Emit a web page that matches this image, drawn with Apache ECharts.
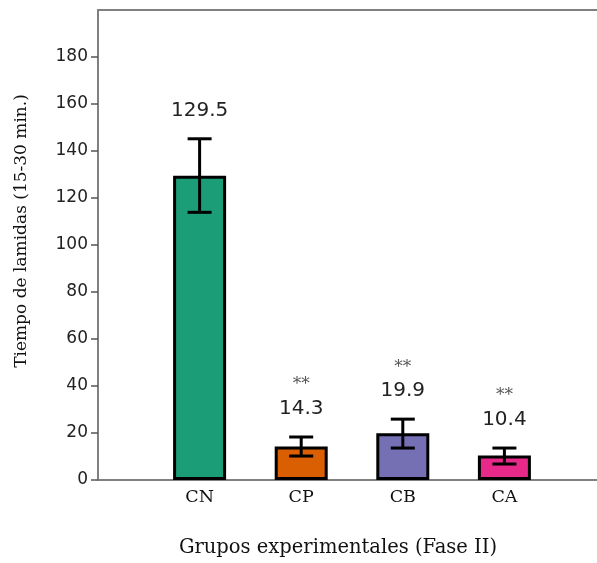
<!DOCTYPE html>
<html>
<head>
<meta charset="utf-8">
<script src="https://cdn.jsdelivr.net/npm/echarts@6/dist/echarts.min.js"></script>
<style>
  html, body { margin: 0; padding: 0; background: #fff; overflow: hidden; }
  #chart { width: 609px; height: 563px; }
</style>
</head>
<body>
<div id="chart"></div>
<script>
const categories = ['CN', 'CP', 'CB', 'CA'];
const means = [129.5, 14.3, 19.9, 10.4];
const errLow = [113.9, 10.2, 13.6, 6.8];
const errHigh = [145.2, 18.3, 25.9, 13.6];
const stars = ['', '**', '**', '**'];
const colors = ['#1b9e77', '#d95f02', '#7570b3', '#e7298a'];
const yTicks = [0, 20, 40, 60, 80, 100, 120, 140, 160, 180];

const axisCats = [''].concat(categories, ['']);
const serif = '"DejaVu Serif", serif';
const sans = '"DejaVu Sans", sans-serif';

const barData = means.map((v, i) => ({
  value: [i + 1, v],
  itemStyle: { color: colors[i] }
}));
const errData = means.map((v, i) => [i + 1, errLow[i], errHigh[i], v, stars[i]]);

const chart = echarts.init(document.getElementById('chart'), null, { renderer: 'canvas' });
chart.setOption({
  animation: false,
  backgroundColor: '#fff',
  grid: { left: 98, right: 0, top: 10, bottom: 81, containLabel: false },
  xAxis: [{
    type: 'category',
    data: axisCats,
    boundaryGap: false,
    axisLine: { lineStyle: { color: '#808080', width: 2 } },
    axisTick: { show: false },
    axisLabel: { color: '#111', fontFamily: serif, fontSize: 17.5, margin: 8 },
    splitLine: { show: false },
    name: 'Grupos experimentales (Fase II)',
    nameLocation: 'middle',
    nameGap: 58,
    nameTextStyle: { color: '#111', fontFamily: serif, fontSize: 19.5, padding: [0, 28, 0, 0] }
  }, {
    type: 'category',
    data: axisCats,
    boundaryGap: false,
    position: 'top',
    axisLine: { lineStyle: { color: '#808080', width: 2 } },
    axisTick: { show: false },
    axisLabel: { show: false }
  }],
  yAxis: {
    type: 'value',
    min: 0,
    max: 200,
    interval: 20,
    axisLine: { show: true, lineStyle: { color: '#808080', width: 2 } },
    axisTick: { show: true, length: 7, customValues: yTicks, lineStyle: { color: '#555', width: 1.5 } },
    axisLabel: { customValues: yTicks, color: '#222', fontFamily: sans, fontSize: 17, margin: 10 },
    splitLine: { show: false },
    name: 'Tiempo de lamidas (15-30 min.)',
    nameLocation: 'middle',
    nameRotate: 90,
    nameGap: 68,
    nameTextStyle: { color: '#111', fontFamily: serif, fontSize: 17, padding: [0, 0, 0, 28] }
  },
  series: [{
    type: 'bar',
    data: barData,
    barWidth: 53,
    itemStyle: { borderColor: '#000', borderWidth: 3 }
  }, {
    type: 'custom',
    data: errData,
    z: 5,
    renderItem: function (params, api) {
      const x = api.value(0);
      const lo = api.coord([x, api.value(1)]);
      const hi = api.coord([x, api.value(2)]);
      const half = 12;
      const style = { stroke: '#000', lineWidth: 3 };
      const children = [
        { type: 'line', shape: { x1: lo[0], y1: lo[1], x2: hi[0], y2: hi[1] }, style: style },
        { type: 'line', shape: { x1: hi[0] - half, y1: hi[1], x2: hi[0] + half, y2: hi[1] }, style: style },
        { type: 'line', shape: { x1: lo[0] - half, y1: lo[1], x2: lo[0] + half, y2: lo[1] }, style: style },
        { type: 'text', style: { text: String(api.value(3)), x: hi[0], y: hi[1] - 28, align: 'center', verticalAlign: 'middle', fill: '#222', font: '20px ' + sans } }
      ];
      const s = errData[params.dataIndex][4];
      if (s) {
        children.push({ type: 'text', style: { text: s, x: hi[0], y: hi[1] - 52, align: 'center', verticalAlign: 'middle', fill: '#555', font: '17px ' + serif } });
      }
      return { type: 'group', children: children };
    }
  }]
});
</script>
</body>
</html>
